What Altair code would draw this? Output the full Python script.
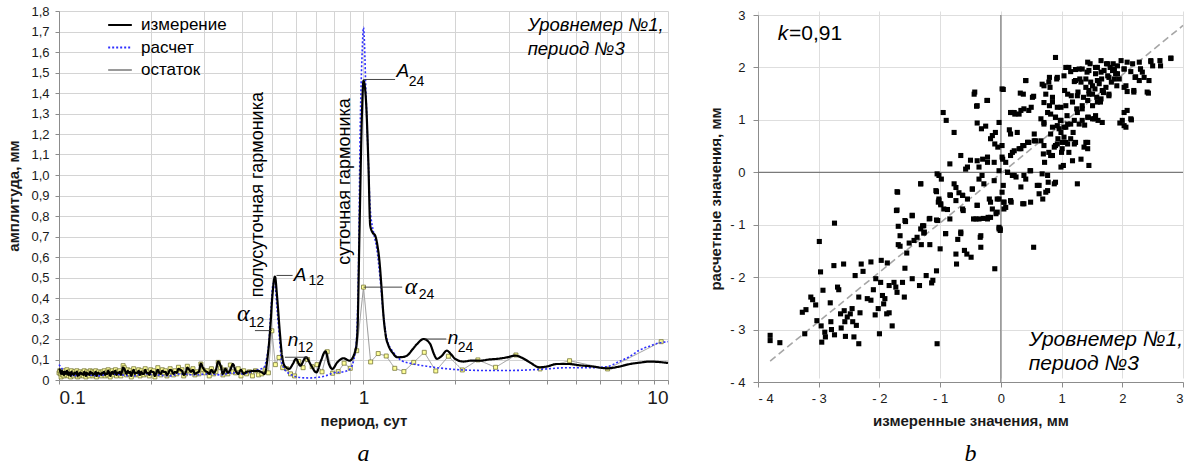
import altair as alt
import pandas as pd

FONT = "Liberation Sans"

# ---------------- panel a: amplitude spectra ----------------
# length of the record in days; harmonic k has period RECORD_DAYS / k
RECORD_DAYS = 19.0

# measured spectrum, long-period part (period, days -> amplitude, mm)
meas_period = [0.45, 0.46, 0.473, 0.485, 0.494, 0.502, 0.512, 0.52, 0.53, 0.54, 0.55, 0.57, 0.586, 0.60,
               0.62, 0.647, 0.672, 0.70, 0.725, 0.75, 0.77, 0.79, 0.82, 0.86, 0.90, 0.94, 0.955, 0.97,
               0.988, 1.0, 1.018, 1.038, 1.052, 1.07, 1.092, 1.11, 1.129, 1.146, 1.163, 1.185, 1.208,
               1.25, 1.29, 1.34, 1.39, 1.45, 1.50, 1.575, 1.655, 1.70, 1.742, 1.80, 1.878, 1.94, 2.0,
               2.13, 2.27, 2.42, 2.58, 2.74, 2.95, 3.15, 3.35, 3.52, 3.78, 4.0, 4.31, 4.73, 5.1, 5.57,
               6.33, 6.9, 7.5, 8.1, 8.7, 9.3, 10.0]
meas_amp = [0.045, 0.04, 0.03, 0.12, 0.25, 0.41, 0.505, 0.41, 0.25, 0.12, 0.07, 0.054, 0.078, 0.103,
            0.07, 0.111, 0.073, 0.037, 0.094, 0.14, 0.078, 0.054, 0.086, 0.106, 0.094, 0.143, 0.233, 0.72,
            1.29, 1.46, 1.373, 1.05, 0.754, 0.72, 0.705, 0.66, 0.575, 0.45, 0.314, 0.21, 0.168,
            0.13, 0.111, 0.112, 0.119, 0.15, 0.176, 0.2, 0.176, 0.13, 0.103, 0.115, 0.143, 0.125, 0.103,
            0.09, 0.095, 0.094, 0.10, 0.103, 0.11, 0.119, 0.105, 0.086, 0.062, 0.066, 0.078, 0.078, 0.072, 0.067,
            0.057, 0.065, 0.078, 0.085, 0.09, 0.088, 0.083]

# measured spectrum, short-period band: harmonics k = 46 .. 190
meas_noise_amp = [
    0.04, 0.03, 0.05, 0.03, 0.045, 0.078, 0.05, 0.035, 0.055, 0.03, 0.07, 0.09, 0.05, 0.035, 0.05, 0.03, 0.04, 0.045,
    0.06, 0.08, 0.04, 0.035, 0.03, 0.05, 0.04, 0.05, 0.06, 0.035, 0.025, 0.045, 0.05, 0.055, 0.035, 0.04, 0.03,
    0.045, 0.05, 0.035, 0.025, 0.04, 0.04, 0.045, 0.03, 0.035, 0.05, 0.035, 0.02, 0.04, 0.04, 0.045, 0.025, 0.035, 0.035, 0.05, 0.03,
    0.03, 0.04, 0.025, 0.045, 0.035, 0.035, 0.03, 0.05, 0.04, 0.02, 0.04, 0.035, 0.045, 0.03, 0.04, 0.055, 0.06, 0.04, 0.025, 0.04,
    0.035, 0.035, 0.025, 0.045, 0.04, 0.03, 0.04, 0.035, 0.02, 0.035, 0.045, 0.03, 0.03, 0.025, 0.04, 0.035, 0.035, 0.025, 0.03, 0.03,
    0.035, 0.035, 0.02, 0.04, 0.03, 0.03, 0.025, 0.035, 0.035, 0.04, 0.025, 0.03, 0.03, 0.035, 0.02, 0.035, 0.04, 0.025, 0.03, 0.03,
    0.035, 0.035, 0.025, 0.03, 0.02, 0.04, 0.03, 0.035, 0.035, 0.025, 0.03, 0.03, 0.04, 0.02, 0.035, 0.035, 0.025, 0.04, 0.045, 0.03,
    0.035, 0.04, 0.025, 0.04, 0.03, 0.045, 0.03, 0.04, 0.05, 0.055]

# computed (model) spectrum
calc_period = [0.1, 0.103, 0.107, 0.112, 0.118, 0.125, 0.135, 0.145, 0.16, 0.175, 0.19, 0.21, 0.23, 0.25,
               0.28, 0.31, 0.34, 0.37, 0.40, 0.43, 0.45, 0.47, 0.48, 0.49, 0.497, 0.505, 0.512, 0.52, 0.53,
               0.54, 0.56, 0.58, 0.62, 0.66, 0.70, 0.75, 0.80, 0.86, 0.904, 0.939, 0.951, 0.963, 0.975,
               0.99, 1.0, 1.02, 1.038, 1.052, 1.079, 1.106, 1.134, 1.163, 1.193, 1.255, 1.337, 1.46, 1.65,
               1.9, 2.2, 2.7, 3.2, 3.8, 4.7, 5.5, 6.3, 6.9, 7.5, 8.0, 8.7, 9.3, 10.0]
calc_amp = [0.075, 0.05, 0.03, 0.02, 0.03, 0.025, 0.02, 0.03, 0.025, 0.02, 0.03, 0.025, 0.02, 0.03,
            0.025, 0.03, 0.025, 0.035, 0.03, 0.04, 0.05, 0.06, 0.1, 0.2, 0.35, 0.47, 0.46, 0.35, 0.2,
            0.08, 0.04, 0.025, 0.012, 0.01, 0.012, 0.02, 0.035, 0.04, 0.054, 0.135, 0.233, 0.56, 1.21,
            1.6, 1.72, 1.373, 1.05, 0.836, 0.72, 0.64, 0.494, 0.314, 0.2, 0.135, 0.094, 0.078, 0.065,
            0.054, 0.048, 0.046, 0.047, 0.052, 0.06, 0.06, 0.065, 0.09, 0.115, 0.143, 0.165, 0.18, 0.187]

# residual spectrum: harmonics k = 2 .. 190
resid_amp = [
    0.187, 0.054, 0.094, 0.054, 0.122, 0.062, 0.098, 0.049, 0.116, 0.044, 0.135, 0.086, 0.041, 0.057, 0.117, 0.129,
    0.088, 0.453, 0.143, 0.057, 0.082, 0.041, 0.033, 0.138, 0.04, 0.075, 0.065, 0.10, 0.06, 0.09, 0.02, 0.03, 0.055,
    0.06, 0.11, 0.075, 0.24, 0.035, 0.05, 0.03, 0.025, 0.045, 0.02, 0.04,
    0.03, 0.045, 0.02, 0.055, 0.035, 0.04, 0.073, 0.03, 0.05, 0.025, 0.06, 0.086, 0.04, 0.03, 0.055, 0.02, 0.045, 0.035,
    0.05, 0.078, 0.03, 0.04, 0.025, 0.055, 0.035, 0.045, 0.067, 0.03, 0.02, 0.05, 0.04, 0.062, 0.03, 0.045, 0.025,
    0.04, 0.055, 0.03, 0.02, 0.045, 0.035, 0.05, 0.025, 0.04, 0.06, 0.03, 0.015, 0.045, 0.035, 0.05, 0.02, 0.04, 0.03, 0.055, 0.025,
    0.035, 0.045, 0.02, 0.05, 0.03, 0.04, 0.025, 0.055, 0.035, 0.015, 0.045, 0.03, 0.05, 0.025, 0.04, 0.06, 0.07, 0.035, 0.02, 0.045,
    0.03, 0.04, 0.02, 0.05, 0.035, 0.025, 0.045, 0.03, 0.015, 0.04, 0.05, 0.025, 0.035, 0.02, 0.045, 0.03, 0.04, 0.02, 0.035, 0.025,
    0.04, 0.03, 0.015, 0.045, 0.025, 0.035, 0.02, 0.04, 0.03, 0.045, 0.02, 0.035, 0.025, 0.04, 0.015, 0.03, 0.045, 0.02, 0.035, 0.025,
    0.03, 0.04, 0.02, 0.035, 0.015, 0.045, 0.025, 0.03, 0.04, 0.02, 0.035, 0.025, 0.045, 0.015, 0.03, 0.04, 0.02, 0.035, 0.05, 0.025,
    0.03, 0.045, 0.02, 0.035, 0.025, 0.04, 0.015, 0.03, 0.045, 0.035]

SERIES = ["измерение", "расчет", "остаток"]

meas_df = pd.DataFrame({
    "period": meas_period + [RECORD_DAYS / k for k in range(46, 191)],
    "amp": meas_amp + meas_noise_amp,
}).sort_values("period")
meas_df["series"] = SERIES[0]
calc_df = pd.DataFrame({"period": calc_period, "amp": calc_amp, "series": SERIES[1]})
resid_df = pd.DataFrame({"period": [RECORD_DAYS / k for k in range(2, 191)], "amp": resid_amp,
                         "series": SERIES[2]}).sort_values("period")

x_minor = [0.1, 0.2, 0.3, 0.4, 0.5, 0.6, 0.7, 0.8, 0.9, 1, 2, 3, 4, 5, 6, 7, 8, 9, 10]
y_ticks = [round(i * 0.1, 1) for i in range(19)]

XA = alt.X("period:Q",
           scale=alt.Scale(type="log", domain=[0.1, 10], nice=False),
           axis=alt.Axis(values=x_minor, title="период, сут", titleFontWeight="bold", titleFontSize=15,
                         labelExpr="datum.value == 0.1 ? '0.1' : datum.value == 1 ? '1' : datum.value == 10 ? '10' : ''",
                         labelFontSize=19, labelPadding=4, titlePadding=6, tickSize=4,
                         gridColor="#d4d4d4", domainColor="#8c8c8c", tickColor="#8c8c8c"))
YA = alt.Y("amp:Q",
           scale=alt.Scale(domain=[0, 1.8], nice=False),
           axis=alt.Axis(values=y_ticks, title="амплитуда, мм", titleFontWeight="bold", titleFontSize=15,
                         labelExpr="datum.value == 0 ? '0' : replace(format(datum.value, '.1f'), '.', ',')",
                         labelFontSize=13, labelPadding=6, titlePadding=9, tickSize=4,
                         gridColor="#d4d4d4", domainColor="#8c8c8c", tickColor="#8c8c8c"))

leg = alt.Legend(orient="none", legendX=48, legendY=1, title=None, symbolType="stroke",
                 symbolSize=560, symbolStrokeWidth=2, labelFontSize=17, labelFont=FONT,
                 rowPadding=1.5, labelOffset=8)
color_enc = alt.Color("series:N", scale=alt.Scale(domain=SERIES, range=["#000000", "#2f2fff", "#9a9a9a"]),
                      legend=leg)
dash_enc = alt.StrokeDash("series:N", scale=alt.Scale(domain=SERIES, range=[[1, 0], [2, 2], [1, 0]]),
                          legend=leg)

resid_line = alt.Chart(resid_df).mark_line(strokeWidth=1).encode(x=XA, y=YA, color=color_enc, strokeDash=dash_enc)
resid_pts = alt.Chart(resid_df).mark_square(size=16, fill="#ffff99", stroke="#77773a", strokeWidth=0.8,
                                            opacity=1).encode(x=XA, y=YA)
calc_line = alt.Chart(calc_df).mark_line(strokeWidth=1.6, interpolate="monotone").encode(
    x=XA, y=YA, color=color_enc, strokeDash=dash_enc)
meas_line = alt.Chart(meas_df).mark_line(strokeWidth=2.2, interpolate="monotone").encode(
    x=XA, y=YA, color=color_enc, strokeDash=dash_enc)

# leader lines from the marked harmonics to their labels
lead_df = pd.DataFrame({
    "period": [0.518, 0.44, 0.552, 1.0, 1.0, 1.59],
    "p2": [0.585, 0.50, 0.656, 1.27, 1.34, 1.87],
    "amp": [0.51, 0.241, 0.111, 1.466, 0.453, 0.2],
})
leaders = alt.Chart(lead_df).mark_rule(color="#303030", strokeWidth=0.9).encode(x=XA, x2="p2:Q", y=YA)

# main letters of the harmonic labels
main_df = pd.DataFrame({
    "period": [0.590, 0.564, 1.284, 1.891],
    "amp": [0.513, 0.196, 1.505, 0.205],
    "t": ["A", "n", "A", "n"],
})
mains = alt.Chart(main_df).mark_text(align="left", baseline="middle", fontSize=19, fontStyle="italic",
                                     font=FONT).encode(x=XA, y=YA, text="t:N")
alpha_df = pd.DataFrame({"period": [0.384, 1.367], "amp": [0.323, 0.454], "t": ["α", "α"]})
alphas = alt.Chart(alpha_df).mark_text(align="left", baseline="middle", fontSize=24, fontStyle="italic",
                                       font="Liberation Serif").encode(x=XA, y=YA, text="t:N")
sub_df = pd.DataFrame({
    "period": [0.660, 0.42, 0.608, 1.407, 1.518, 2.04],
    "amp": [0.484, 0.279, 0.156, 1.452, 0.415, 0.156],
    "t": ["12", "12", "12", "24", "24", "24"],
})
subs = alt.Chart(sub_df).mark_text(align="left", baseline="middle", fontSize=14, font=FONT).encode(
    x=XA, y=YA, text="t:N")

harm_df = pd.DataFrame({"period": [0.449, 0.868], "amp": [0.904, 0.968],
                        "t": ["полусуточная гармоника", "суточная гармоника"]})
harm = alt.Chart(harm_df).mark_text(angle=270, align="center", baseline="middle", fontSize=18,
                                    font=FONT).encode(x=XA, y=YA, text="t:N")

gauge_a = pd.DataFrame({"period": [3.46, 3.46], "amp": [1.73, 1.613], "t": ["Уровнемер №1,", "период №3"]})
gauge_a_txt = alt.Chart(gauge_a).mark_text(align="left", baseline="middle", fontSize=18.5, fontStyle="italic",
                                           font=FONT).encode(x=XA, y=YA, text="t:N")

panel_a = alt.layer(resid_line, resid_pts, calc_line, meas_line, leaders, mains, alphas, subs, harm,
                    gauge_a_txt).properties(
    width=609, height=369,
    title=alt.TitleParams("a", orient="bottom", anchor="middle", font="Liberation Serif", fontStyle="italic",
                          fontSize=24, fontWeight="normal", offset=14))

# ---------------- panel b: computed vs measured values ----------------
meas_vals = [
    -1.70, -1.72, -1.69, -1.66, -1.58, -1.46, -1.32, -1.32, -1.27, -1.17, -1.06, -1.06, -1.05, -1.02, -0.98, -1.02,
    -0.95, -0.90, -1.03, -0.99, -0.94, -0.88, -0.84, -0.84, -0.77, -0.84, -0.77, -0.74, -0.69, -0.66, -0.63, -0.62,
    -0.58, -0.55, -0.50, -0.47, -0.45, -0.44, -0.40, -0.39, -0.39, -0.36, -0.36, -0.32, -0.31, -0.29, -0.28, -0.25,
    -0.22, -0.22, -0.21, -0.19, -0.17, -0.14, -0.17, -0.14, -0.11, -0.10, -0.09, -0.06, -0.06, -0.05, -0.03, -0.03,
    -0.03, -0.01, 0.02, 0.02, 0.02, 0.04, 0.02, 0.05, 0.08, 0.11, 0.14, 0.16, 0.17, 0.19, 0.19, 0.19,
    0.23, 0.25, 0.27, 0.30, 0.30, 0.33, 0.36, 0.36, 0.37, 0.38, 0.41, 0.41, 0.44, 0.46, 0.48, 0.49,
    0.50, 0.54, 0.55, 0.55, 0.60, 0.63, 0.68, 0.68, 0.70, 0.71, 0.71, 0.72, 0.74, 0.77, 0.78, 0.80,
    0.80, 0.81, 0.82, 0.82, 0.85, 0.85, 0.88, 0.88, 0.90, 0.90, 0.92, 0.93, 0.94, 0.96, 0.98, 0.99,
    1.00, 1.01, 1.03, 1.04, 1.05, 1.07, 1.07, 1.09, 1.10, 1.12, 1.12, 1.15, 1.16, 1.18, 1.19, 1.21,
    1.21, 1.23, 1.25, 1.26, 1.27, 1.29, 1.30, 1.32, 1.34, 1.34, 1.36, 1.37, 1.38, 1.40, 1.42, 1.43,
    1.44, 1.45, 1.45, 1.47, 1.48, 1.51, 1.54, 1.55, 1.56, 1.58, 1.59, 1.60, 1.62, 1.64, 1.65, 1.66,
    1.67, 1.69, 1.70, 1.73, 1.74, 1.76, 1.78, 1.80, 1.82, 1.84, 1.85, 1.87, 1.89, 1.91, 1.92, 1.95,
    0.90, 1.98, 2.03, 2.08, 2.14, 2.19, 2.22, 2.28, 2.28, 2.30, 2.43, 2.47, 2.50, 2.62, 2.80, 2.03,
    2.15, 1.96, 2.03, 2.08, 2.03, 2.36,
    -3.80, -3.80, -3.64, -3.27, -3.21, -3.23, -3.13, -3.10, -3.05, -3.03, -2.99, -2.97, -2.96, -2.95, -2.93, -2.90,
    -2.89, -2.81, -2.80, -2.79, -2.75, -2.74, -2.69, -2.67, -2.64, -2.63, -2.59, -2.58, -2.57, -2.56, -2.53, -2.48,
    -2.45, -2.44, -2.42, -2.40, -2.38, -2.34, -2.34, -2.32, -2.30, -2.27, -2.20, -2.14, -2.14, -2.10, -2.07, -2.06,
    -2.02, -2.00, -1.98, -1.97, -1.95, -1.93, -1.91, -1.88, -1.87, -1.84, -1.84, -1.79, -1.76, -1.73, -1.71, -1.69,
    -1.66, -1.62, -1.59, -1.58, -1.55, -1.51, -1.46, -1.43, -1.38, -1.34, -1.31, -1.27, -1.23, -1.17, -1.14, -1.12,
    -1.06, -1.05, -1.00, -0.91, -0.74, -0.73, -0.71, -0.66, -0.60, -0.56, -0.49, -0.34, -0.33, -0.10, -0.01, 0.54,
    -2.74,
    1.07, 1.15, 1.29, 1.43, 1.45, 1.56, 1.65, 1.76, 1.78, 1.87, 1.92, 2.03, 2.17, 2.30, 2.33, 1.23,
    1.32, 1.40, 1.51, 1.59, 1.67, 1.78, 0.79, 0.71, 0.93, 0.74, 0.85, 0.99, 1.10, 1.18, 1.26, 1.34,
    1.43, 1.51, 1.59, 1.65, 1.45, 0.66, 0.71, 0.82, 0.90, 0.93, 0.99, 1.04, 1.10, 1.21, 1.26, 1.34,
    1.43, 1.51, 1.56, 0.99, 1.04, 0.93, 1.01, 1.07, 1.15, 1.23, 1.40, 1.43, 0.85, 0.79, 0.71, 0.66,
    0.57, 0.44, 0.38, 0.33, 0.22, 0.16, 0.08, 0.03, -0.11, -0.22, -0.30, -0.39, -0.55, 2.00, 2.06, 2.14,
    2.08, 2.41, 2.19, 2.06, 2.21, 2.44, 2.63, 2.80, 2.47, -0.43, -0.39, -0.23, 0.04, 0.32, 0.41, 0.22,
    0.46, 0.52, 0.16, 0.33,
    -1.71, -1.71, -1.57, -1.46, -1.29, -1.26, -1.32, -1.18, -1.04, -1.07, -1.02, -0.99, -0.91, -0.83, -0.74, -0.63,
    -0.63, -0.66, -0.47, -0.39, -0.36, -0.33, -0.41, -0.22, -0.17, -0.08, -0.03, -0.03, 0.05, 0.16, 0.38, 0.05,
    0.63, 0.69, 0.77, 0.90, 0.77, 0.49, 0.38, 0.22, 0.11,
]
calc_vals = [
    -0.38, -0.73, -1.03, -1.21, -0.92, -0.82, -0.22, -1.08, -1.02, -0.88, -0.37, -0.91, -0.03, -0.06, -0.13, -0.54,
    1.14, 0.99, -0.57, -0.62, -0.70, -0.71, -0.43, -0.89, 0.76, 0.16, -0.22, -0.54, -0.39, 0.32, -0.44, -0.73,
    0.06, -0.51, 0.23, -0.32, -0.89, 1.49, 1.26, 0.94, -0.63, 0.10, -0.13, 0.83, -0.06, -0.88, -0.22, 0.88,
    1.37, 0.19, -0.86, -0.51, 0.64, 0.70, -0.86, -0.70, -0.16, 0.54, 0.76, -0.76, -0.51, 0.48, 0.95, 0.03,
    -1.05, -1.08, 1.59, 0.51, 0.29, -0.25, -0.38, -0.57, -0.67, 0.00, 0.81, 0.73, -0.57, -0.06, 0.38, 1.14,
    1.11, -0.09, 0.76, 1.11, 0.45, -0.28, 0.51, -0.60, 1.49, 1.21, 1.75, -0.13, 0.57, 0.57, 0.03, -0.57,
    1.24, 1.45, 0.73, 0.60, -0.25, -0.41, 1.68, -0.03, 0.35, 1.33, 0.92, 0.19, -0.38, 1.14, -0.19, 1.81,
    1.27, 1.62, 0.73, 0.32, 0.86, 1.43, 0.48, -0.22, 1.05, 0.51, 1.78, 1.24, 0.64, 0.83, 0.99, 0.10,
    0.38, 0.57, 0.13, 1.84, 1.56, 1.27, 0.86, 1.08, 0.54, 2.00, 0.38, 0.92, 1.46, 0.22, 0.76, 1.73,
    0.54, 1.96, 1.21, -0.22, 1.53, 0.92, 1.78, 0.25, 1.97, 1.21, 1.43, 0.48, 0.90, 1.62, 1.91, 0.57,
    1.05, 1.49, 0.13, 2.07, 1.72, 1.27, 1.02, 1.59, 1.88, 1.43, 2.00, 0.99, 1.69, 1.34, 2.13, 1.78,
    0.95, 1.52, 1.94, 1.62, 2.07, 1.84, 1.46, 2.00, 1.72, 1.94, 2.07, 1.78, 1.88, 1.65, 2.03, 1.78,
    2.19, 2.13, 1.97, 2.10, 1.92, 1.53, 1.82, 2.10, 1.75, 1.97, 1.51, 2.11, 2.03, 2.13, 2.18, 1.14,
    1.00, 0.94, 0.89, 1.54, 1.62, 1.81,
    -3.11, -3.21, -3.25, -2.67, -2.62, -3.08, -2.38, -2.43, -2.53, -2.83, -1.32, -1.90, -2.93, -3.24, -2.25, -3.05,
    -3.14, -2.49, -2.85, -3.00, -1.78, -3.10, -2.19, -2.24, -2.70, -2.97, -1.75, -2.64, -2.85, -3.13, -2.76, -2.70,
    -2.60, -2.85, -3.14, -1.97, -2.92, -2.38, -3.27, -2.68, -1.75, -1.89, -2.41, -1.71, -2.44, -2.24, -2.72, -2.03,
    -2.60, -3.08, -2.10, -1.68, -2.35, -2.51, -2.41, -2.70, -1.73, -2.68, -2.16, -2.93, -2.10, -2.19, -2.29, -1.38,
    -1.41, -2.10, -2.38, -1.83, -1.54, -1.35, -2.03, -1.30, -1.24, -2.16, -1.38, -1.16, -1.97, -1.38, -2.11, -2.06,
    -1.88, -3.27, -1.46, -1.17, -1.56, -1.75, -1.28, -1.17, -1.49, -1.56, -1.62, -1.24, -1.43, -1.84, -1.11, -1.43,
    -0.97,
    2.00, 1.92, 1.97, 2.10, 1.94, 2.00, 1.91, 2.07, 1.81, 1.97, 1.88, 1.97, 2.07, 1.97, 1.91, 1.75,
    1.72, 1.78, 1.65, 1.75, 1.56, 1.49, 1.72, 1.65, 1.81, 1.49, 1.34, 1.24, 1.49, 1.34, 1.46, 1.27,
    1.37, 1.49, 1.34, 1.40, 1.56, 1.02, 0.95, 1.11, 1.05, 0.89, 0.99, 0.86, 0.92, 0.99, 1.14, 0.99,
    1.05, 1.02, 1.08, 0.76, 0.67, 0.54, 0.45, 0.57, 0.64, 0.57, 0.57, 0.45, 0.32, 0.38, 0.51, 0.60,
    0.60, 0.57, 0.51, 0.45, 0.41, 0.32, 0.19, 0.25, 0.19, 0.29, 0.25, 0.22, 0.10, 0.99, 0.86, 1.02,
    1.18, 1.53, 1.56, 1.65, 1.81, 1.75, 2.03, 2.17, 2.13, 1.53, 1.27, 1.37, 1.58, 1.51, 1.75, 1.14,
    1.18, 1.43, 1.14, 1.18,
    -0.37, -0.72, -0.94, -0.83, -1.02, -1.14, -0.22, -0.89, -0.92, -0.35, -0.51, -0.60, -1.17, -0.44, -0.29, -0.44,
    -0.70, -1.14, -0.32, -0.63, -0.89, -1.21, -0.89, -0.89, -0.57, -0.79, -0.51, -1.08, -0.57, -0.54, -0.60, -0.70,
    -0.25, -0.51, -0.35, -0.19, -0.06, 0.03, -0.06, -0.06, 0.00,
]

# regression line through the cloud
fit_x = [-3.8, 3.0]
fit_y = [-3.6, 2.8]

scat_df = pd.DataFrame({"m": meas_vals, "c": calc_vals})
fit_df = pd.DataFrame({"m": fit_x, "c": fit_y})

# panel b is a little shorter than panel a and sits lower: its y range starts 4 px below the top
B_HEIGHT = 371
B_TOP = 4

neg_label = "datum.value < 0 ? '- ' + abs(datum.value) : '' + datum.value"
XB = alt.X("m:Q", scale=alt.Scale(domain=[-4, 3], nice=False),
           axis=alt.Axis(values=list(range(-4, 4)), labelExpr=neg_label, title="измеренные значения, мм",
                         titleFontWeight="bold", titleFontSize=15, labelFontSize=13, labelPadding=5,
                         titlePadding=8, tickSize=5, gridColor="#dedede", domainColor="#8c8c8c",
                         tickColor="#8c8c8c"))
YB = alt.Y("c:Q", scale=alt.Scale(domain=[-4, 3], nice=False, range=[B_HEIGHT, B_TOP]),
           axis=alt.Axis(values=list(range(-4, 4)), labelExpr=neg_label, title="расчетные значения, мм",
                         titleFontWeight="bold", titleFontSize=15, labelFontSize=13, labelPadding=8,
                         titlePadding=6, tickSize=5, gridColor="#dedede", domainColor="#8c8c8c",
                         tickColor="#8c8c8c"))

zero_df = pd.DataFrame({"m": [0], "c": [0]})
vzero = alt.Chart(zero_df).mark_rule(color="#7a7a7a", strokeWidth=1.2).encode(
    x=XB, y=alt.value(B_TOP), y2=alt.value(B_HEIGHT))
hzero = alt.Chart(zero_df).mark_rule(color="#7a7a7a", strokeWidth=1.2).encode(y=YB)
fit_line = alt.Chart(fit_df).mark_line(color="#a6a6a6", strokeWidth=1.6, strokeDash=[7, 4]).encode(x=XB, y=YB)
pts = alt.Chart(scat_df).mark_square(size=26, color="#000000", opacity=1).encode(x=XB, y=YB)

k_sym = pd.DataFrame({"m": [-3.676], "c": [2.64], "t": ["k"]})
k_val = pd.DataFrame({"m": [-3.49], "c": [2.64], "t": ["=0,91"]})
k_txt = alt.Chart(k_sym).mark_text(align="left", baseline="middle", fontSize=21, fontStyle="italic",
                                   font=FONT).encode(x=XB, y=YB, text="t:N")
k_num = alt.Chart(k_val).mark_text(align="left", baseline="middle", fontSize=21, font=FONT).encode(
    x=XB, y=YB, text="t:N")
gauge_b = pd.DataFrame({"m": [0.459, 0.459], "c": [-3.194, -3.651], "t": ["Уровнемер №1,", "период №3"]})
gauge_b_txt = alt.Chart(gauge_b).mark_text(align="left", baseline="middle", fontSize=21, fontStyle="italic",
                                           font=FONT).encode(x=XB, y=YB, text="t:N")

panel_b = alt.layer(vzero, hzero, fit_line, pts, k_txt, k_num, gauge_b_txt).properties(
    width=425, height=B_HEIGHT,
    title=alt.TitleParams("b", orient="bottom", anchor="middle", font="Liberation Serif", fontStyle="italic",
                          fontSize=24, fontWeight="normal", offset=14))

chart = alt.hconcat(panel_a, panel_b, spacing=35).properties(
    padding={"left": 6, "top": 5, "right": 0, "bottom": 0}
).configure(font=FONT).configure_view(stroke=None).configure_axis(
    labelFont=FONT, titleFont=FONT, labelColor="#1a1a1a", titleColor="#1a1a1a")

chart.save("out.html", embed_options={"renderer": "svg", "actions": False})
